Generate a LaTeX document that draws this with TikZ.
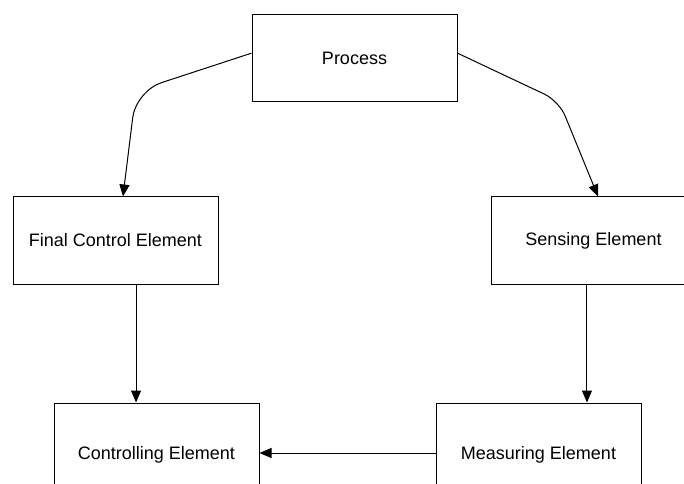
\documentclass[tikz,border=0pt]{standalone}
\usepackage{fontspec}
\setmainfont{Liberation Sans}
\usepackage{tikz}
\usetikzlibrary{arrows.meta,calc,positioning}

\tikzset{
  block/.style={draw, line width=0.75pt, minimum width=153.75pt, minimum height=65.25pt, inner sep=0pt,
    font=\fontsize{13.5}{16}\selectfont},
  lowblock/.style={block, minimum height=78pt},
  flow/.style={line width=0.75pt, -{Triangle[length=9pt,width=7.5pt]}}
}

\begin{document}
\begin{tikzpicture}[x=0.75pt,y=0.75pt,yscale=-1,xscale=1]
\useasboundingbox (0,0) rectangle (684,484);

% Blocks
\node [block] (proc) at (354.5,58.5) {Process};
\node [block] (fce) at (115.5,240.5) {Final Control Element};
\node [block] (sens) at (593.5,240.5) {Sensing Element};
\node [lowblock] (ctrl) at (156.5,455) {Controlling Element};
\node [lowblock] (meas) at (538.5,455) {Measuring Element};

% bends of the two upper connectors
\coordinate (lbend) at (136,91);
\coordinate (rbend) at (559,101);

% Process -> Final Control Element
\draw [flow, rounded corners=20pt] ([yshift=-4pt]proc.west) -- (lbend) -- ([xshift=5.6pt]fce.north);
% Process -> Sensing Element
\draw [flow, rounded corners=12pt] ([yshift=-4pt]proc.east) -- (rbend) -- ([xshift=3.4pt]sens.north);
% Final Control Element -> Controlling Element
\draw [flow] ([xshift=15.4pt]fce.south) -- ([xshift=15.4pt]fce.south |- ctrl.north);
% Sensing Element -> Measuring Element
\draw [flow] ([xshift=-4.9pt]sens.south) -- ([xshift=-4.9pt]sens.south |- meas.north);
% Measuring Element -> Controlling Element
\draw [flow] ([yshift=-1.5pt]meas.west) -- ([yshift=-1.5pt]ctrl.east);

\end{tikzpicture}
\end{document}
